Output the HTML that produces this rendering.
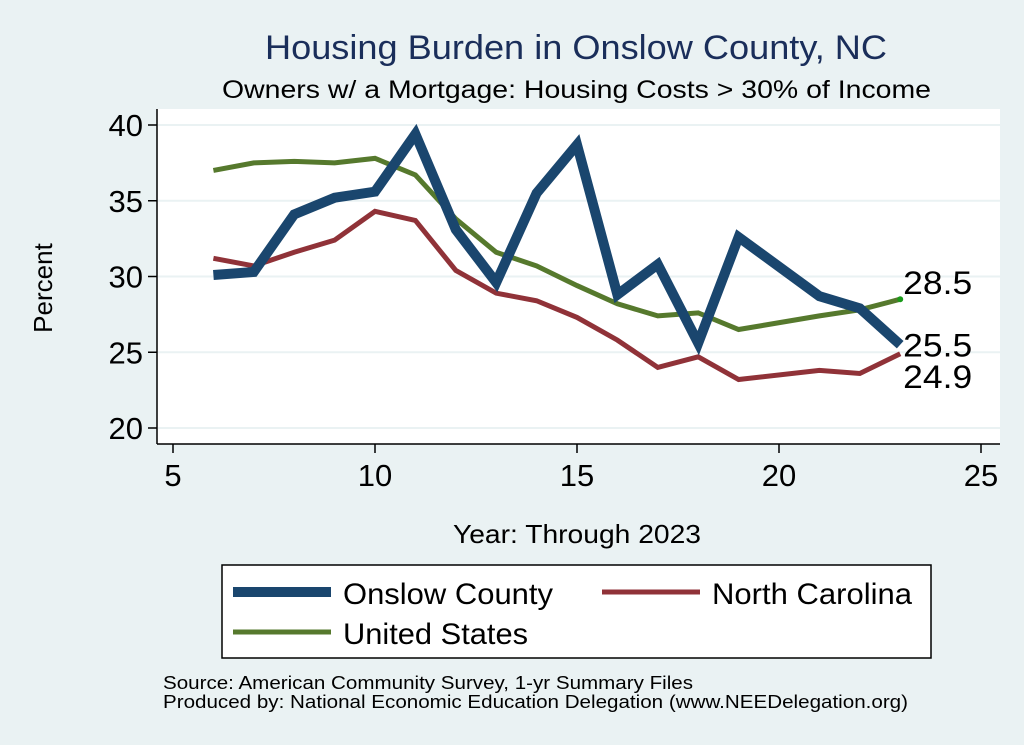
<!DOCTYPE html>
<html><head><meta charset="utf-8"><style>
body{margin:0;background:#eaf2f3;}
svg{display:block;font-family:"Liberation Sans",sans-serif;}
</style></head><body>
<svg width="1024" height="745" viewBox="0 0 1024 745">
<rect x="0" y="0" width="1024" height="745" fill="#eaf2f3"/>
<text x="265" y="59" font-size="34" fill="#1a2e5a" textLength="622" lengthAdjust="spacingAndGlyphs">Housing Burden in Onslow County, NC</text>
<text x="222" y="98" font-size="25" fill="#000" textLength="709" lengthAdjust="spacingAndGlyphs">Owners w/ a Mortgage: Housing Costs &gt; 30% of Income</text>
<rect x="157" y="109" width="843" height="335" fill="#fff"/>
<g id="grid"></g>
<line x1="157" y1="109" x2="157" y2="444" stroke="#000" stroke-width="1.5"/>
<line x1="157" y1="444" x2="1000" y2="444" stroke="#000" stroke-width="1.5"/>
<g id="ticks"></g>
<g id="series"></g>
<text x="52" y="288" font-size="26" text-anchor="middle" transform="rotate(-90 52 288)">Percent</text>
<text x="453" y="543" font-size="26" textLength="248" lengthAdjust="spacingAndGlyphs">Year: Through 2023</text>
<g>
<rect x="222" y="565" width="709" height="93" fill="#fff" stroke="#000" stroke-width="1.5"/>
<line x1="233" y1="592" x2="331" y2="592" stroke="#1a466e" stroke-width="10"/>
<text x="343" y="604" font-size="30" textLength="210" lengthAdjust="spacingAndGlyphs">Onslow County</text>
<line x1="602" y1="592" x2="700" y2="592" stroke="#903238" stroke-width="5"/>
<text x="712" y="604" font-size="30" textLength="200" lengthAdjust="spacingAndGlyphs">North Carolina</text>
<line x1="233" y1="632" x2="331" y2="632" stroke="#56792d" stroke-width="5"/>
<text x="343" y="644" font-size="30" textLength="185" lengthAdjust="spacingAndGlyphs">United States</text>
</g>
<text x="163" y="689" font-size="18" textLength="530" lengthAdjust="spacingAndGlyphs">Source: American Community Survey, 1-yr Summary Files</text>
<text x="163" y="708" font-size="18" textLength="745" lengthAdjust="spacingAndGlyphs">Produced by: National Economic Education Delegation (www.NEEDelegation.org)</text>
</svg>
<script>
const years=[6,7,8,9,10,11,12,13,14,15,16,17,18,19,21,22,23];
const onslow=[30.1,30.3,34.1,35.2,35.6,39.4,33.1,29.6,35.5,38.7,28.8,30.8,25.6,32.6,28.7,27.9,25.5];
const nc=[31.2,30.7,31.6,32.4,34.3,33.7,30.4,28.9,28.4,27.3,25.8,24.0,24.7,23.2,23.8,23.6,24.9];
const us=[37.0,37.5,37.6,37.5,37.8,36.7,33.8,31.6,30.7,29.4,28.2,27.4,27.6,26.5,27.4,27.8,28.5];
const xTicks=[5,10,15,20,25];
const yTicks=[20,25,30,35,40];
const NS="http://www.w3.org/2000/svg";
function X(v){return 173+(v-5)*(981-173)/20;}
function Y(v){return 428-(v-20)*(428-125)/20;}
function mk(t,a,p){const e=document.createElementNS(NS,t);for(const k in a)e.setAttribute(k,a[k]);p.appendChild(e);return e;}
const grid=document.getElementById('grid'),ticks=document.getElementById('ticks'),ser=document.getElementById('series');
yTicks.forEach(v=>{
 const g=mk('line',{x1:158,x2:1000,y1:Y(v),y2:Y(v),stroke:'#eaf2f3','stroke-width':2},grid);
 
 
 const t=mk('line',{x1:148,x2:157,y1:Y(v),y2:Y(v),stroke:'#000','stroke-width':1.5},ticks);
 
 
 const l=mk('text',{x:143,y:Y(v)+11,'font-size':31,'text-anchor':'end'},ticks);l.textContent=v;
 
 
});
xTicks.forEach(v=>{
 const t=mk('line',{x1:X(v),x2:X(v),y1:444,y2:453,stroke:'#000','stroke-width':1.5},ticks);
 
 
 const l=mk('text',{x:X(v),y:486,'font-size':31,'text-anchor':'middle'},ticks);l.textContent=v;
 
 
});
function line(vals,col,w,name){
 const p=mk('polyline',{points:years.map((y,i)=>X(y)+','+Y(vals[i])).join(' '),fill:'none',stroke:col,'stroke-width':w,'stroke-linejoin':'miter'},ser);
 
 
}
line(us,'#56792d',5,'series-united-states');
line(nc,'#903238',5,'series-north-carolina');
line(onslow,'#1a466e',10,'series-onslow-county');
const last=years.length-1;
const dot=mk('circle',{cx:X(years[last]),cy:Y(us[last]),r:3,fill:'#1a9a1a'},ser);


[[us,Y(us[last])-5,'label-us-end'],[onslow,Y(onslow[last])+12,'label-onslow-end'],[nc,Y(nc[last])+34,'label-nc-end']].forEach(([a,y,n])=>{
 const t=mk('text',{x:X(years[last])+3,y:y,'font-size':32,textLength:69,lengthAdjust:'spacingAndGlyphs'},ser);t.textContent=a[last].toFixed(1);
 
 
});
</script>
</body></html>
